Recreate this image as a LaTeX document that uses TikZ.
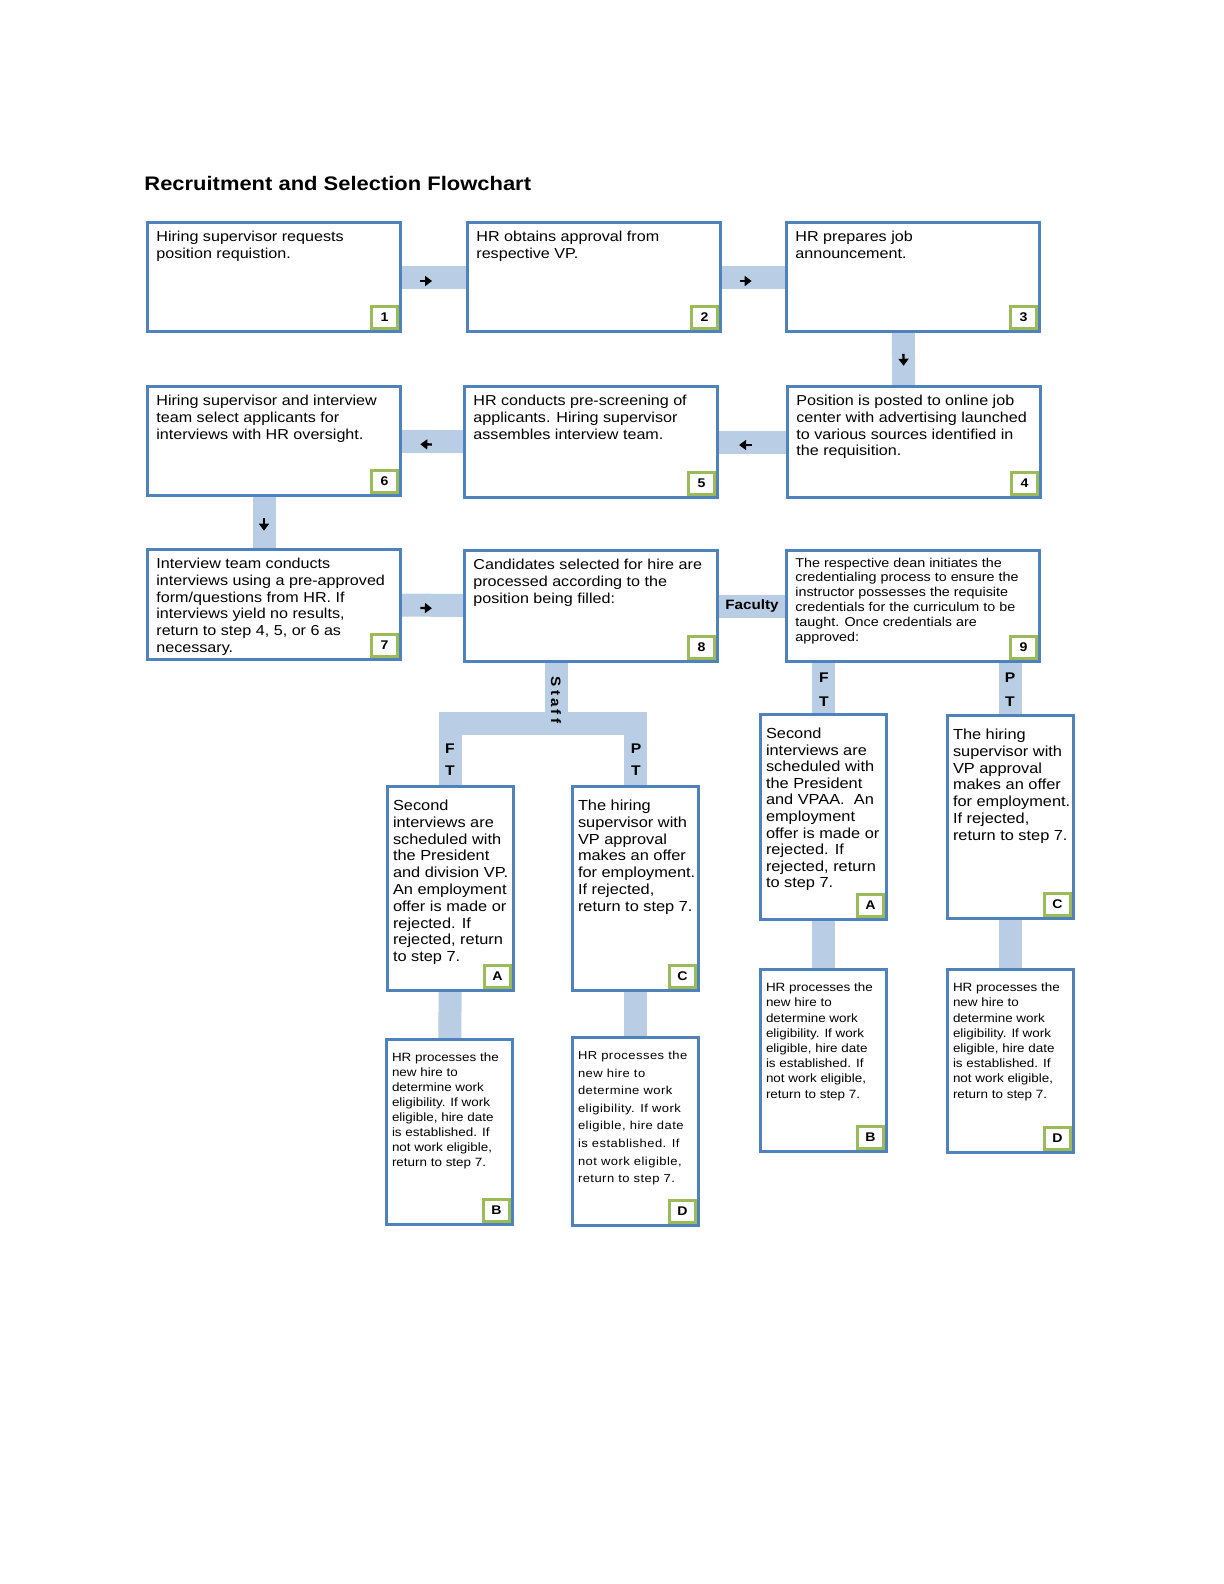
\documentclass[tikz,border=0pt]{standalone}
\usepackage{fontspec}
\setmainfont{Liberation Sans}[FakeStretch=1.12]
\usetikzlibrary{calc,arrows.meta,backgrounds}

\definecolor{boxblue}{RGB}{79,129,189}
\definecolor{barblue}{RGB}{185,205,229}
\definecolor{stepgreen}{RGB}{155,187,89}

\newcommand{\fs}[2]{\fontsize{#1}{#2}\selectfont}

\tikzset{
  card/.style 2 args={draw=boxblue, line width=1.5pt, fill=white, anchor=north west,
    minimum width=#1, minimum height=#2, inner sep=0pt},
  bigcard/.style={card={126.5pt}{#1}},
  smallcard/.style={card={63pt}{#1}},
  txt/.style={anchor=north west, align=left, inner xsep=5pt, inner ysep=4.8pt, font=\fs{7.2}{8.4}},
  stxt/.style={txt, inner xsep=3.3pt, inner ysep=7.3pt},
  badge/.style={anchor=south east, draw=stepgreen, line width=1.5pt, fill=white,
    minimum width=13pt, minimum height=11pt, inner sep=0pt, xshift=-1.5pt, yshift=1.5pt,
    font=\fs{6.3}{7}\bfseries},
  bar/.style={draw=barblue, line width=11.5pt},
  pointer/.style={-{Triangle[length=3.5pt,width=5pt]}, line width=1.2pt},
  tag/.style={inner sep=0pt, font=\fs{6.8}{8}\bfseries},
}

\begin{document}
\begin{tikzpicture}[x=0.5pt, y=-0.5pt]
  \useasboundingbox (0,0) rectangle (1224,1584);
  \node[anchor=base west, inner sep=0pt, font=\fs{9.8}{12}\bfseries] (title) at (144,191)
    {Recruitment and Selection Flowchart};

  % main steps
  \node[bigcard=54.5pt, label={[txt]north west:{Hiring supervisor requests\\position requistion.}},
    label={[badge]south east:1}] (b1) at (146,221) {};
  \node[bigcard=54.5pt, label={[txt]north west:{HR obtains approval from\\respective VP.}},
    label={[badge]south east:2}] (b2) at (466,221) {};
  \node[bigcard=54.5pt, label={[txt]north west:{HR prepares job\\announcement.}},
    label={[badge]south east:3}] (b3) at (785,221) {};
  \node[bigcard=55.5pt, label={[txt]north west:{Position is posted to online job\\center with advertising launched\\to various sources identified in\\the requisition.}},
    label={[badge]south east:4}] (b4) at (786,385) {};
  \node[bigcard=55.5pt, label={[txt]north west:{HR conducts pre-screening of\\applicants. Hiring supervisor\\assembles interview team.}},
    label={[badge]south east:5}] (b5) at (463,385) {};
  \node[bigcard=54.5pt, label={[txt]north west:{Hiring supervisor and interview\\team select applicants for\\interviews with HR oversight.}},
    label={[badge]south east:6}] (b6) at (146,385) {};
  \node[bigcard=55pt, label={[txt]north west:{Interview team conducts\\interviews using a pre-approved\\form/questions from HR. If\\interviews yield no results,\\return to step 4, 5, or 6 as\\necessary.}},
    label={[badge]south east:7}] (b7) at (146,548) {};
  \node[bigcard=55.5pt, label={[txt]north west:{Candidates selected for hire are\\processed according to the\\position being filled:}},
    label={[badge]south east:8}] (b8) at (463,549) {};
  \node[bigcard=55.5pt, label={[txt, inner ysep=4.2pt, font=\fs{6.4}{7.4}]north west:{The respective dean initiates the\\credentialing process to ensure the\\instructor possesses the requisite\\credentials for the curriculum to be\\taught. Once credentials are\\approved:}},
    label={[badge]south east:9}] (b9) at (785,549) {};

  % staff branch
  \node[smallcard=102pt, label={[stxt, font=\fs{7.3}{8.4}]north west:{Second\\interviews are\\scheduled with\\the President\\and division VP.\\An employment\\offer is made or\\rejected. If\\rejected, return\\to step 7.}},
    label={[badge]south east:A}] (sA) at (386,785) {};
  \node[smallcard=102pt, label={[stxt, font=\fs{7.3}{8.4}]north west:{The hiring\\supervisor with\\VP approval\\makes an offer\\for employment.\\If rejected,\\return to step 7.}},
    label={[badge]south east:C}] (sC) at (571,785) {};
  \node[smallcard=92.5pt, label={[stxt, font=\fs{6}{7.5}]north west:{HR processes the\\new hire to\\determine work\\eligibility. If work\\eligible, hire date\\is established. If\\not work eligible,\\return to step 7.}},
    label={[badge]south east:B}] (sB) at (385,1038) {};
  \node[smallcard=94pt, label={[stxt, font=\fs{5.8}{8.8}\addfontfeature{LetterSpace=4}]north west:{HR processes the\\new hire to\\determine work\\eligibility. If work\\eligible, hire date\\is established. If\\not work eligible,\\return to step 7.}},
    label={[badge]south east:D}] (sD) at (571,1036) {};

  % faculty branch
  \node[smallcard=102.5pt, label={[stxt, font=\fs{7.3}{8.3}]north west:{Second\\interviews are\\scheduled with\\the President\\and VPAA.\ \ An\\employment\\offer is made or\\rejected. If\\rejected, return\\to step 7.}},
    label={[badge]south east:A}] (fA) at (759,713) {};
  \node[smallcard=101.5pt, label={[stxt, font=\fs{7.3}{8.4}]north west:{The hiring\\supervisor with\\VP approval\\makes an offer\\for employment.\\If rejected,\\return to step 7.}},
    label={[badge]south east:C}] (fC) at (946,714) {};
  \node[smallcard=91pt, label={[stxt, font=\fs{6}{7.6}]north west:{HR processes the\\new hire to\\determine work\\eligibility. If work\\eligible, hire date\\is established. If\\not work eligible,\\return to step 7.}},
    label={[badge]south east:B}] (fB) at (759,968) {};
  \node[smallcard=91.5pt, label={[stxt, font=\fs{6}{7.6}]north west:{HR processes the\\new hire to\\determine work\\eligibility. If work\\eligible, hire date\\is established. If\\not work eligible,\\return to step 7.}},
    label={[badge]south east:D}] (fD) at (946,968) {};

  \coordinate (staff) at (556,723.5);

  % connectors
  \begin{scope}[on background layer]
    \fill[white] (0,0) rectangle (1224,1584);
    \draw[bar] (b1) -- (b2);
    \draw[bar] (b2) -- (b3);
    \draw[bar] ([xshift=-5pt]b3.center) -- ([xshift=-5pt]b4.center);
    \draw[bar] (b4) -- (b5);
    \draw[bar] (b5) -- (b6);
    \draw[bar] ([xshift=-5pt]b6.center) -- ([xshift=-5pt]b7.center);
    \draw[bar] (b7) -- (b8);
    \draw[bar] (b8) -- node[tag] (facultyTag) {Faculty} (b9);
    \draw[bar] (staff |- b8.south) -- (staff);
    \draw[bar] (sA) |- (staff) -| (sC);
    \draw[bar] (sA) -- (sB);
    \draw[bar] (sC) -- (sD);
    \draw[bar] (fA) -- (fA |- b9.south);
    \draw[bar] (fC) -- (fC |- b9.south);
    \draw[bar] (fA) -- (fB);
    \draw[bar] (fC) -- (fD);
  \end{scope}

  \node[tag, rotate=-90] (staffTag) at (556,700) {S\kern1.6pt t\kern1.6pt a\kern1.6pt f\kern1.6pt f};
  \node[tag, align=center, font=\fs{7}{11}\bfseries] (staffFT) at (450,760) {F\\T};
  \node[tag, align=center, font=\fs{7}{11}\bfseries] (staffPT) at (636,760) {P\\T};
  \node[tag, align=center, font=\fs{7}{12}\bfseries] (facFT) at (824,690) {F\\T};
  \node[tag, align=center, font=\fs{7}{12}\bfseries] (facPT) at (1010,690) {P\\T};

  \draw[pointer] ($(b1.east)!0.28!(b2.west)+(0,4)$) -- ($(b1.east)!0.47!(b2.west)+(0,4)$);
  \draw[pointer] ($(b2.east)!0.28!(b3.west)+(0,4)$) -- ($(b2.east)!0.47!(b3.west)+(0,4)$);
  \draw[pointer] ($(b3.south)!0.40!(b4.north)+(-10,0)$) -- ($(b3.south)!0.63!(b4.north)+(-10,0)$);
  \draw[pointer] ($(b4.west)!0.51!(b5.east)+(0,3)$) -- ($(b4.west)!0.70!(b5.east)+(0,3)$);
  \draw[pointer] ($(b5.west)!0.51!(b6.east)+(0,3)$) -- ($(b5.west)!0.70!(b6.east)+(0,3)$);
  \draw[pointer] ($(b6.south)!0.42!(b7.north)+(-10,0)$) -- ($(b6.south)!0.66!(b7.north)+(-10,0)$);
  \draw[pointer] ($(b7.east)!0.30!(b8.west)+(0,3)$) -- ($(b7.east)!0.49!(b8.west)+(0,3)$);
\end{tikzpicture}
\end{document}
